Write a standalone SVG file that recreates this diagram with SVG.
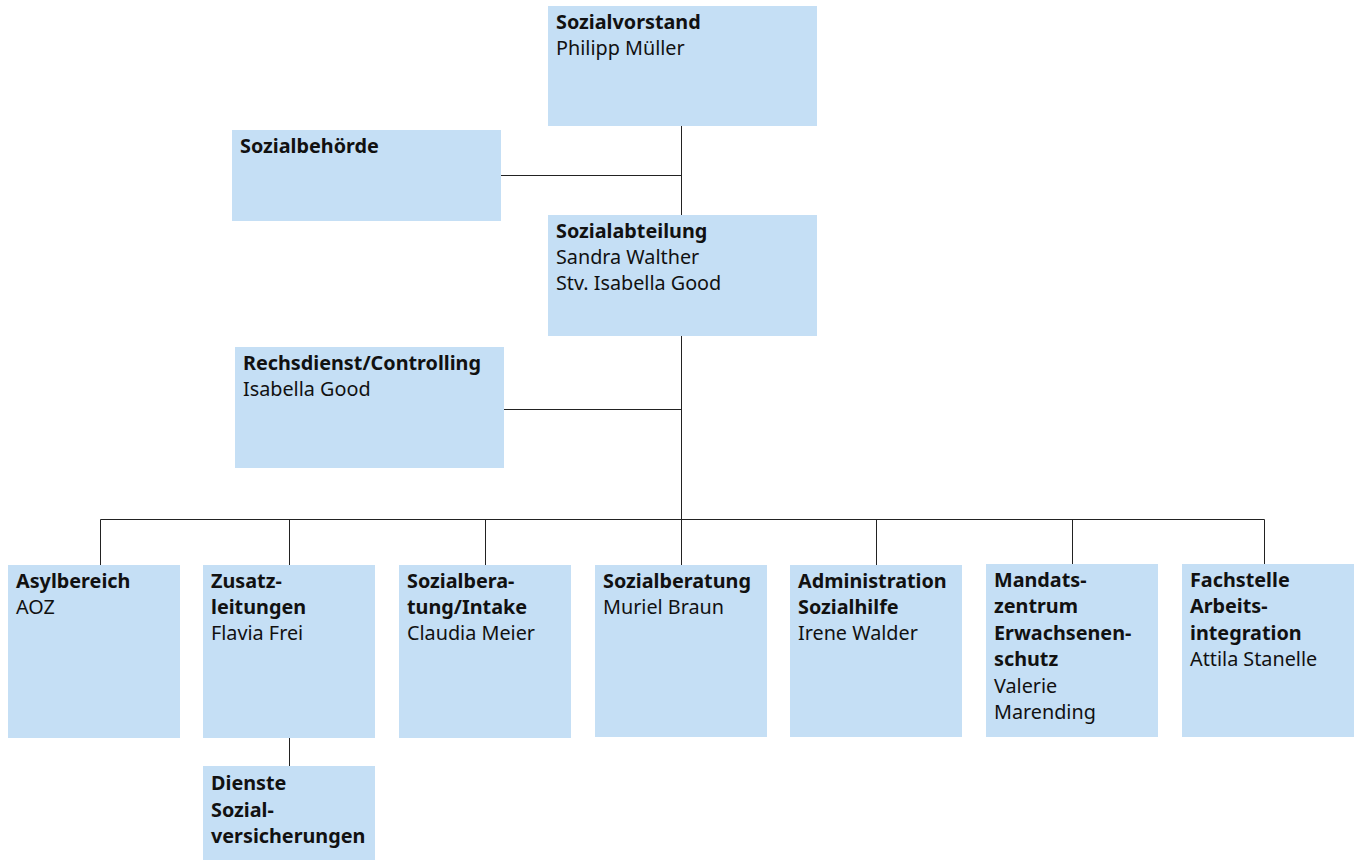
<svg xmlns="http://www.w3.org/2000/svg" width="1356" height="860" viewBox="0 0 1356 860">
<style>
.box{fill:#c5dff5}
.t{font-family:"Noto Sans","Open Sans",sans-serif;font-size:19.8px;fill:#111}
.b{font-weight:bold}
.c{stroke:#222;stroke-width:1;fill:none}
</style>
<rect width="1356" height="860" fill="#fff"/>
<g id="connectors">
<path class="c" d="M681.5 126V565M501 175.5H681.5M504 409.5H681.5M100.5 519.5H1264.5M100.5 519.5V565M289.5 519.5V565M485.5 519.5V565M876.5 519.5V565M1072.5 519.5V564M1264.5 519.5V564M289.5 738V766"/>
</g>
<g id="sozialvorstand"><rect class="box" x="548" y="6" width="269" height="120"/>
<text class="t" x="556" y="29"><tspan class="b">Sozialvorstand</tspan><tspan x="556" dy="26">Philipp Müller</tspan></text></g>
<g id="sozialbehoerde"><rect class="box" x="232" y="130" width="269" height="91"/>
<text class="t b" x="240" y="153">Sozialbehörde</text></g>
<g id="sozialabteilung"><rect class="box" x="548" y="215" width="269" height="121"/>
<text class="t" x="556" y="238"><tspan class="b">Sozialabteilung</tspan><tspan x="556" dy="26">Sandra Walther</tspan><tspan x="556" dy="26">Stv. Isabella Good</tspan></text></g>
<g id="rechtsdienst"><rect class="box" x="235" y="347" width="269" height="121"/>
<text class="t" x="243" y="370"><tspan class="b">Rechsdienst/Controlling</tspan><tspan x="243" dy="26">Isabella Good</tspan></text></g>
<g id="asylbereich"><rect class="box" x="8" y="565" width="172" height="173"/>
<text class="t" x="16" y="588"><tspan class="b">Asylbereich</tspan><tspan x="16" dy="26">AOZ</tspan></text></g>
<g id="zusatzleitungen"><rect class="box" x="203" y="565" width="172" height="173"/>
<text class="t" x="211" y="588"><tspan class="b">Zusatz-</tspan><tspan class="b" x="211" dy="26">leitungen</tspan><tspan x="211" dy="26">Flavia Frei</tspan></text></g>
<g id="dienste"><rect class="box" x="203" y="766" width="172" height="94"/>
<text class="t b" x="211" y="790"><tspan>Dienste</tspan><tspan x="211" dy="26.5">Sozial-</tspan><tspan x="211" dy="26.5">versicherungen</tspan></text></g>
<g id="intake"><rect class="box" x="399" y="565" width="172" height="173"/>
<text class="t" x="407" y="588"><tspan class="b">Sozialbera-</tspan><tspan class="b" x="407" dy="26">tung/Intake</tspan><tspan x="407" dy="26">Claudia Meier</tspan></text></g>
<g id="sozialberatung"><rect class="box" x="595" y="565" width="172" height="172"/>
<text class="t" x="603" y="588"><tspan class="b">Sozialberatung</tspan><tspan x="603" dy="26">Muriel Braun</tspan></text></g>
<g id="administration"><rect class="box" x="790" y="565" width="172" height="172"/>
<text class="t" x="798" y="588"><tspan class="b">Administration</tspan><tspan class="b" x="798" dy="26">Sozialhilfe</tspan><tspan x="798" dy="26">Irene Walder</tspan></text></g>
<g id="mandatszentrum"><rect class="box" x="986" y="564" width="172" height="173"/>
<text class="t" x="994" y="587"><tspan class="b">Mandats-</tspan><tspan class="b" x="994" dy="26.4">zentrum</tspan><tspan class="b" x="994" dy="26.4">Erwachsenen-</tspan><tspan class="b" x="994" dy="26.4">schutz</tspan><tspan x="994" dy="26.4">Valerie</tspan><tspan x="994" dy="26.4">Marending</tspan></text></g>
<g id="fachstelle"><rect class="box" x="1182" y="564" width="172" height="173"/>
<text class="t" x="1190" y="587"><tspan class="b">Fachstelle</tspan><tspan class="b" x="1190" dy="26.4">Arbeits-</tspan><tspan class="b" x="1190" dy="26.4">integration</tspan><tspan x="1190" dy="26.4">Attila Stanelle</tspan></text></g>
</svg>
